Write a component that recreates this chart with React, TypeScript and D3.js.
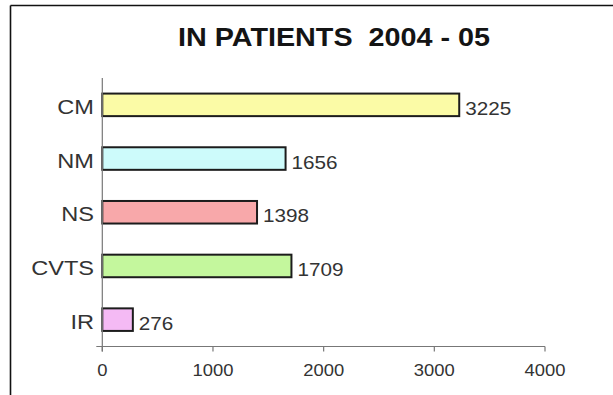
import React from "react";
import * as d3 from "d3";

// In-patient counts per department, 2004-05
const departments = ["CM", "NM", "NS", "CVTS", "IR"];
const patients = [3225, 1656, 1398, 1709, 276];
const barColors = ["#fbfba6", "#cdfbfb", "#f8a8aa", "#c4f79d", "#f4baf4"];
const xTicks = [0, 1000, 2000, 3000, 4000];
const title = "IN PATIENTS  2004 - 05";

const W = 613;
const H = 395;
const FONT = "'Liberation Sans', Arial, Helvetica, sans-serif";
const SX = 1.15; // glyphs are drawn slightly wide

export default function App() {
  const x = d3.scaleLinear().domain([0, 4000]).range([102.3, 545]);
  const y = d3.scaleBand().domain(departments).range([78, 346.5]).paddingInner(0.58).paddingOuter(0.29);
  const axisY = 346.5;
  const bw = y.bandwidth();

  return (
    <svg
      width={W}
      height={H}
      viewBox={`0 0 ${W} ${H}`}
      style={{ position: "absolute", left: 0, top: 0, background: "#fff" }}
    >
      {/* frame */}
      <line x1={10.5} y1={5.5} x2={W} y2={5.5} stroke="#111" strokeWidth={1.6} />
      <line x1={10.5} y1={5.5} x2={10.5} y2={H} stroke="#111" strokeWidth={1.6} />

      {/* title */}
      <text
        transform={`translate(334,46) scale(${SX},1)`}
        textAnchor="middle"
        fontFamily={FONT}
        fontWeight="bold"
        fontSize={25}
        fill="#141414"
        style={{ whiteSpace: "pre" }}
      >
        {title}
      </text>

      {/* bars */}
      {departments.map((d, i) => (
        <rect
          key={d}
          x={x(0)}
          y={y(d)!}
          width={x(patients[i]) - x(0)}
          height={bw}
          fill={barColors[i]}
          stroke="#1c1c1c"
          strokeWidth={2}
        />
      ))}

      {/* y axis */}
      <line x1={x(0)} y1={78} x2={x(0)} y2={axisY + 5} stroke="#777" strokeWidth={1.2} />

      {/* x axis */}
      <line x1={x(0) - 6} y1={axisY} x2={x(4000)} y2={axisY} stroke="#777" strokeWidth={1.2} />
      {xTicks.map((t) => (
        <g key={t}>
          <line x1={x(t)} y1={axisY} x2={x(t)} y2={axisY + 5} stroke="#777" strokeWidth={1.2} />
          <text
            transform={`translate(${x(t)},376) scale(${SX},1)`}
            textAnchor="middle"
            fontFamily={FONT}
            fontSize={16}
            fill="#333"
          >
            {t}
          </text>
        </g>
      ))}

      {/* category labels */}
      {departments.map((d) => (
        <text
          key={d}
          transform={`translate(94,${y(d)! + bw / 2 + 9}) scale(${SX},1)`}
          textAnchor="end"
          fontFamily={FONT}
          fontSize={20.5}
          fill="#333"
        >
          {d}
        </text>
      ))}

      {/* value labels */}
      {departments.map((d, i) => (
        <text
          key={d}
          transform={`translate(${x(patients[i]) + 6},${y(d)! + bw / 2 + 10}) scale(${SX},1)`}
          fontFamily={FONT}
          fontSize={18}
          fill="#333"
        >
          {patients[i]}
        </text>
      ))}
    </svg>
  );
}
